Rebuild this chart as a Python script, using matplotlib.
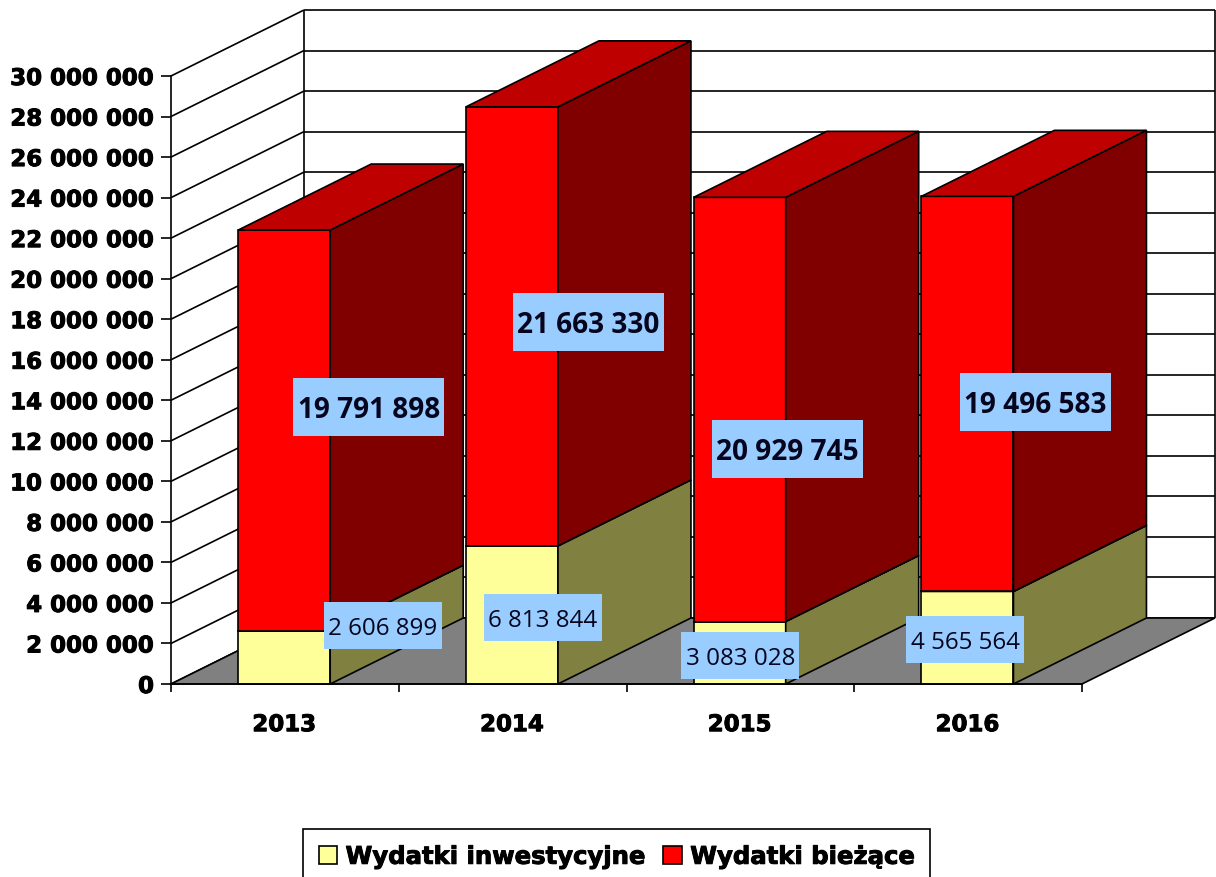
import matplotlib
matplotlib.use("Agg")
import matplotlib.pyplot as plt
import matplotlib.patheffects as pe
from matplotlib.patches import Polygon, Rectangle, Patch
from matplotlib.transforms import IdentityTransform
from matplotlib.ticker import FuncFormatter

# ---- data ----
years = ["2013", "2014", "2015", "2016"]
inwestycyjne = [2606899, 6813844, 3083028, 4565564]
biezace = [19791898, 21663330, 20929745, 19496583]
series_names = ["Wydatki inwestycyjne", "Wydatki bieżące"]
y_max = 30000000
y_step = 2000000

# ---- style and layout ----
W, H = 1216, 877
AX_L, AX_R, AX_T, AX_B = 171, 1082, 76, 684
DEPTH_PX = (133, 66)
BAR_W = 0.404
BAR_C = 0.497
FRONT = ["#FFFF99", "#FF0000"]
SIDE = ["#808040", "#800000"]
TOP = ["#BFBF73", "#BF0000"]
BOX = "#99CCFF"
LW = 1.2
HEAVY = [pe.withStroke(linewidth=0.7, foreground="black")]
# label box centre offsets from the segment's centre (px, right / up)
OFF_INV = [(98, 32), (30, -3), (0, -3), (-3, -2)]
OFF_CUR = [(84, 24), (76, 4), (47, -40), (67, -8)]

fig = plt.figure(figsize=(W / 100, H / 100), dpi=100, facecolor="white")
ax = fig.add_axes([AX_L / W, 1 - AX_B / H, (AX_R - AX_L) / W, (AX_B - AX_T) / H])
ax.patch.set_alpha(0)
ax.set_xlim(0, len(years))
ax.set_ylim(0, y_max)

DX = DEPTH_PX[0] * len(years) / (AX_R - AX_L)
DY = DEPTH_PX[1] * y_max / (AX_B - AX_T)
x0, x1 = 0, len(years)


def poly(pts, fc, z):
    ax.add_patch(Polygon(pts, closed=True, facecolor=fc, edgecolor="black",
                         linewidth=LW, joinstyle="miter", clip_on=False, zorder=z))


def line(xs, ys, z=1):
    ax.plot(xs, ys, color="black", lw=LW, clip_on=False, zorder=z,
            solid_capstyle="butt")


# wall grid and floor
levels = list(range(0, y_max + 1, y_step))
for v in levels:
    line([x0, x0 + DX], [v, v + DY])
    line([x0 + DX, x1 + DX], [v + DY, v + DY])
line([x0 + DX, x0 + DX], [DY, y_max + DY])
line([x1 + DX, x1 + DX], [DY, y_max + DY])
poly([(x0, 0), (x1, 0), (x1 + DX, DY), (x0 + DX, DY)], "#808080", 1.5)

# bars
z = 2
for i, (a, b) in enumerate(zip(inwestycyjne, biezace)):
    l, r = i + BAR_C - BAR_W / 2, i + BAR_C + BAR_W / 2
    base = 0
    for j, v in enumerate((a, b)):
        t = base + v
        poly([(l, base), (r, base), (r, t), (l, t)], FRONT[j], z)
        poly([(r, base), (r + DX, base + DY), (r + DX, t + DY), (r, t)], SIDE[j], z)
        poly([(l, t), (r, t), (r + DX, t + DY), (l + DX, t + DY)], TOP[j], z)
        base = t
        z += 0.01

# value labels
fig.canvas.draw()
to_px = ax.transData.transform
px = IdentityTransform()


def label(i, mid, off, text, box_w, box_h, fs, weight):
    cx, cy = to_px((i + 0.5, mid))
    cx += off[0]
    cy += off[1]
    ax.add_patch(Rectangle((cx - box_w / 2, cy - box_h / 2), box_w, box_h,
                           facecolor=BOX, edgecolor="none", transform=px,
                           clip_on=False, zorder=5))
    ax.text(cx, cy, text, transform=px, ha="center", va="center_baseline",
            family="Open Sans", fontsize=fs, fontweight=weight, color="#05051e",
            clip_on=False, zorder=6)


def fmt(v):
    return f"{int(v):,}".replace(",", " ")


for i, (a, b) in enumerate(zip(inwestycyjne, biezace)):
    label(i, a / 2, OFF_INV[i], fmt(a), 118, 47, 17.4, "normal")
    label(i, a + b / 2, OFF_CUR[i], fmt(b), 151, 58, 20.2, "bold")

# axes
for s in ("top", "right"):
    ax.spines[s].set_visible(False)
for s in ("left", "bottom"):
    ax.spines[s].set_linewidth(LW)
    ax.spines[s].set_zorder(3)
ax.set_yticks(levels)
ax.yaxis.set_major_formatter(FuncFormatter(lambda v, _: fmt(v)))
ax.tick_params(axis="y", length=7.2, width=LW, pad=5, labelsize=16.5)
ax.set_xticks(range(len(years) + 1))
ax.set_xticklabels([])
ax.tick_params(axis="x", which="major", length=6, width=LW)
ax.set_xticks([i + BAR_C for i in range(len(years))], labels=years, minor=True)
ax.tick_params(axis="x", which="minor", length=0, pad=21, labelsize=16.5)
for t in ax.get_yticklabels() + ax.get_xticklabels(minor=True):
    t.set_fontweight("bold")
    t.set_family("DejaVu Sans")
    t.set_path_effects(HEAVY)

# legend
handles = [Patch(facecolor=FRONT[k], edgecolor="black", linewidth=LW,
                 label=series_names[k]) for k in range(2)]
leg = fig.legend(handles=handles, ncol=2, loc="upper left",
                 bbox_to_anchor=(303 / W, 1 - 829 / H), bbox_transform=fig.transFigure,
                 borderaxespad=0, fancybox=False, edgecolor="black", framealpha=1,
                 borderpad=0.65, handlelength=0.75, handleheight=0.75,
                 handletextpad=0.35, columnspacing=0.8,
                 prop={"family": "DejaVu Sans", "weight": "bold", "size": 17.5})
leg.get_frame().set_linewidth(LW)
for t in leg.get_texts():
    t.set_path_effects(HEAVY)

fig.savefig("out.png", dpi=100)
